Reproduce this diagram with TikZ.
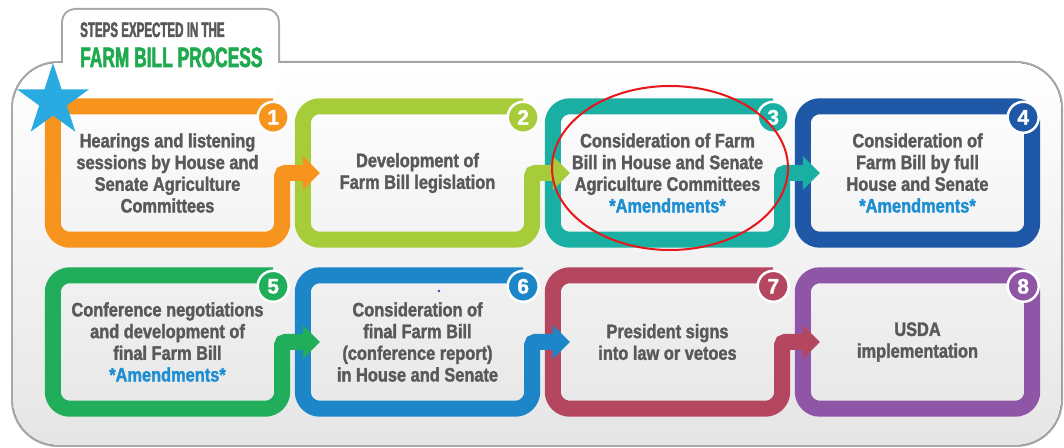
\documentclass[tikz,border=0pt]{standalone}
\usepackage{fontspec}
\usetikzlibrary{shapes.geometric,calc}
\newfontfamily\bodyfont{Liberation Sans Bold}[FakeStretch=0.84,FakeBold=1.6]
\newfontfamily\titleA{Liberation Sans Bold}[FakeStretch=0.55,FakeBold=2]
\newfontfamily\titleB{Liberation Sans Bold}[FakeStretch=0.62,FakeBold=2]
\newfontfamily\numfont{Liberation Sans Bold}[FakeBold=1.5]
\definecolor{txtgray}{HTML}{58595B}
\definecolor{amend}{HTML}{1E8ED3}
\definecolor{titlegreen}{HTML}{1FAA4F}
\definecolor{starblue}{HTML}{29ABE2}
\definecolor{hlred}{HTML}{E8161B}
\definecolor{panelline}{HTML}{A8A8A8}
\definecolor{cA}{HTML}{F7941E}
\definecolor{cB}{HTML}{A7CC39}
\definecolor{cC}{HTML}{1AAFA3}
\definecolor{cD}{HTML}{1F58A6}
\definecolor{cE}{HTML}{20AE5B}
\definecolor{cF}{HTML}{1D86C8}
\definecolor{cG}{HTML}{B4465F}
\definecolor{cH}{HTML}{8F56A7}
\definecolor{dotblue}{HTML}{3A3ACF}
\newcommand\amendtxt{\textcolor{amend}{*Amendments*}}
\begin{document}
\begin{tikzpicture}[x=1bp,y=-1bp,
  box/.style={minimum width=229bp, minimum height=133bp, inner sep=0pt, align=center,
    text=txtgray, font=\bodyfont\fontsize{19.5bp}{21.7bp}\selectfont},
  frame/.style={line width=16bp, rounded corners=17bp, line cap=butt},
  link/.style={line width=16bp, rounded corners=3bp, line cap=butt},
  numc/.style={circle, draw=white, line width=2.5bp, minimum size=31bp, inner sep=0pt,
    text=white, font=\numfont\fontsize{21bp}{21bp}\selectfont},
  ttl/.style={anchor=base west, inner sep=0pt}
  ]
\useasboundingbox (0,0) rectangle (1064,448);
% panel
\draw[panelline, line width=4bp, rounded corners=45bp] (13,63) rectangle (1061,445);
\draw[panelline, line width=4bp, rounded corners=12bp] (63,10) rectangle (278,100);
\fill[top color=white, bottom color=black!10, rounded corners=45bp] (13,63) rectangle (1061,445);
\fill[white, rounded corners=12bp] (63,10) rectangle (278,100);
% boxes
\node[box] (b1) at (167.5,173) {Hearings and listening\\sessions by House and\\Senate Agriculture\\Committees};
\node[box] (b2) at (417.5,173) {Development of\\Farm Bill legislation};
\node[box] (b3) at (667.5,173) {Consideration of Farm\\Bill in House and Senate\\Agriculture Committees\\\amendtxt};
\node[box] (b4) at (917.5,173) {Consideration of\\Farm Bill by full\\House and Senate\\\amendtxt};
\node[box] (b5) at (167.5,342) {Conference negotiations\\and development of\\final Farm Bill\\\amendtxt};
\node[box] (b6) at (417.5,342) {Consideration of\\final Farm Bill\\(conference report)\\in House and Senate};
\node[box] (b7) at (667.5,342) {President signs\\into law or vetoes};
\node[box] (b8) at (917.5,342) {USDA\\implementation};
% closed frames
\draw[frame, cD] (b4.north east) -- (b4.north west) -- (b4.south west) -- (b4.south east) -- cycle;
\draw[frame, cH] (b8.north east) -- (b8.north west) -- (b8.south west) -- (b8.south east) -- cycle;
% open frames with links
\foreach \a/\b/\c in {b3/b4/cC, b2/b3/cB, b1/b2/cA, b7/b8/cG, b6/b7/cF, b5/b6/cE}{
  \draw[frame, \c] ([xshift=-9bp]\a.north east) -- (\a.north west) -- (\a.south west) -- (\a.south east) -- ([yshift=-20bp]\a.east);
  \draw[link, \c] ([yshift=-20bp]\a.east) -- (\a.east) -- (\b.west);
  \fill[\c] ([yshift=17bp]\b.west) -- ([xshift=17bp]\b.west) -- ([yshift=-17bp]\b.west) -- cycle;
}
% number circles
\foreach \a/\c/\n in {b1/cA/1, b2/cB/2, b3/cC/3, b4/cD/4, b5/cE/5, b6/cF/6, b7/cG/7, b8/cH/8}{
  \node[numc, fill=\c] (n\n) at ([xshift=-9bp,yshift=-11bp]\a.north east) {\n};
}
% title
\node[ttl, text=txtgray, font=\titleA\fontsize{21bp}{21bp}\selectfont] (t1) at (80,37) {STEPS EXPECTED IN THE};
\node[ttl, text=titlegreen, font=\titleB\fontsize{28bp}{28bp}\selectfont] (t2) at (80,67) {FARM BILL PROCESS};
% star
\node[star, star points=5, star point ratio=2.618, fill=starblue, minimum size=76bp, inner sep=0pt] (st) at (53,101) {};
% stray dot
\fill[dotblue] (439,291) circle [radius=1.3];
% highlight
\draw[hlred, line width=2bp] (670,168) ellipse [x radius=118, y radius=82];
\end{tikzpicture}
\end{document}
